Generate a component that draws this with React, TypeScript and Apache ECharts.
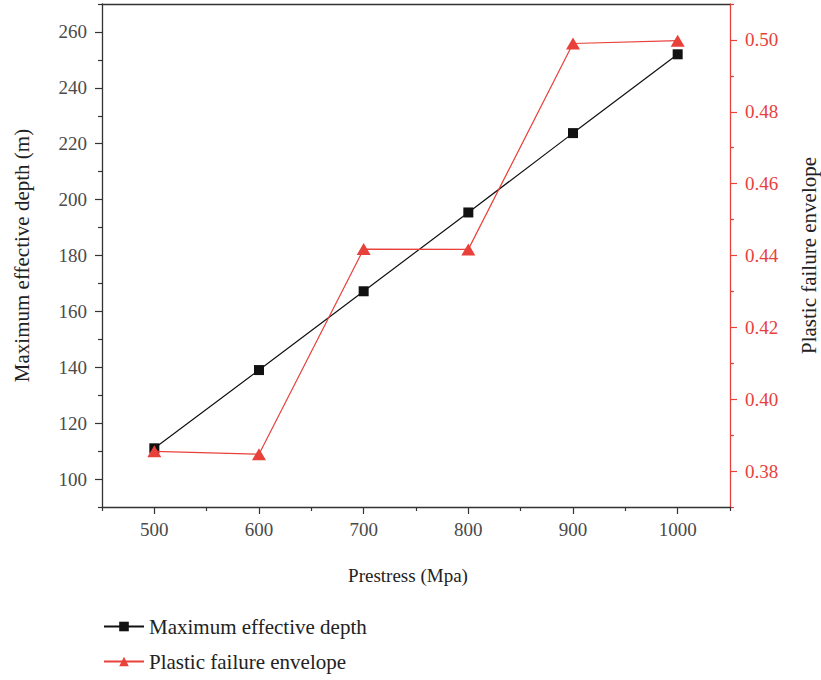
import React, { useEffect, useRef } from "react";
import * as echarts from "echarts";

const prestress = [500, 600, 700, 800, 900, 1000];
const depth = [111, 139, 167.2, 195.4, 223.8, 252];
const envelope = [0.3855, 0.3847, 0.4418, 0.4417, 0.499, 0.4998];

const xMajor = [500, 600, 700, 800, 900, 1000];
const xMinor = [450, 550, 650, 750, 850, 950, 1050];
const yLeftMajor = [100, 120, 140, 160, 180, 200, 220, 240, 260];
const yLeftMinor = [90, 110, 130, 150, 170, 190, 210, 230, 250, 270];
const yRightMajor = [0.38, 0.4, 0.42, 0.44, 0.46, 0.48, 0.5];
const yRightMinor = [0.37, 0.39, 0.41, 0.43, 0.45, 0.47, 0.49, 0.51];

const RED = "#e8413b";
const AXIS = "#333333";
const FONT = "Liberation Serif";

export default function App() {
  const ref = useRef<HTMLDivElement>(null);
  useEffect(() => {
    if (!ref.current) return;
    const chart = echarts.init(ref.current, undefined, { renderer: "svg" });
    const labelStyle = { fontFamily: FONT, fontSize: 19, color: "#4a4a4a" };
    chart.setOption({
      animation: false,
      backgroundColor: "#ffffff",
      grid: { left: 102, right: 91, top: 4, bottom: 173, outerBoundsMode: "none", containLabel: false },
      legend: {
        orient: "vertical",
        left: 98,
        top: 611,
        itemWidth: 40,
        itemHeight: 12,
        itemGap: 14,
        textStyle: { fontFamily: FONT, fontSize: 21, color: "#222" },
        data: ["Maximum effective depth", "Plastic failure envelope"],
      },
      xAxis: [
        {
          type: "value",
          min: 450,
          max: 1050,
          position: "bottom",
          name: "Prestress (Mpa)",
          nameLocation: "middle",
          nameGap: 59,
          nameTextStyle: { fontFamily: FONT, fontSize: 19, color: "#222", padding: [0, 16, 0, 0] },
          axisLine: { show: true, lineStyle: { color: AXIS, width: 1.3 } },
          axisTick: { show: true, length: 7, lineStyle: { color: AXIS, width: 1.2 }, customValues: xMajor },
          axisLabel: { ...labelStyle, margin: 13, customValues: xMajor, formatter: (v: number) => String(v) },
          splitLine: { show: false },
        },
        {
          type: "value",
          min: 450,
          max: 1050,
          position: "bottom",
          axisLine: { show: false },
          axisTick: { show: true, length: 4, lineStyle: { color: AXIS, width: 1.2 }, customValues: xMinor },
          axisLabel: { show: false },
          splitLine: { show: false },
        },
        {
          type: "value",
          min: 450,
          max: 1050,
          position: "top",
          axisLine: { show: true, lineStyle: { color: AXIS, width: 1.3 } },
          axisTick: { show: false },
          axisLabel: { show: false },
          splitLine: { show: false },
        },
      ],
      yAxis: [
        {
          type: "value",
          min: 90,
          max: 270,
          position: "left",
          name: "Maximum effective depth (m)",
          nameLocation: "middle",
          nameRotate: 90,
          nameGap: 70,
          nameTextStyle: { fontFamily: FONT, fontSize: 21, color: "#222" },
          axisLine: { show: true, lineStyle: { color: AXIS, width: 1.3 } },
          axisTick: { show: true, length: 7, lineStyle: { color: AXIS, width: 1.2 }, customValues: yLeftMajor },
          axisLabel: { ...labelStyle, margin: 15, customValues: yLeftMajor, formatter: (v: number) => String(v) },
          splitLine: { show: false },
        },
        {
          type: "value",
          min: 0.37,
          max: 0.51,
          position: "right",
          name: "Plastic failure envelope",
          nameLocation: "middle",
          nameRotate: 90,
          nameGap: 68,
          nameTextStyle: { fontFamily: FONT, fontSize: 21, color: "#222" },
          axisLine: { show: true, lineStyle: { color: RED, width: 1.3 } },
          axisTick: { show: true, length: 7, lineStyle: { color: RED, width: 1.2 }, customValues: yRightMajor },
          axisLabel: {
            ...labelStyle,
            color: RED,
            margin: 15,
            customValues: yRightMajor,
            formatter: (v: number) => v.toFixed(2),
          },
          splitLine: { show: false },
        },
        {
          type: "value",
          min: 90,
          max: 270,
          position: "left",
          axisLine: { show: false },
          axisTick: { show: true, length: 4, lineStyle: { color: AXIS, width: 1.2 }, customValues: yLeftMinor },
          axisLabel: { show: false },
          splitLine: { show: false },
        },
        {
          type: "value",
          min: 0.37,
          max: 0.51,
          position: "right",
          axisLine: { show: false },
          axisTick: { show: true, length: 4, lineStyle: { color: RED, width: 1.2 }, customValues: yRightMinor },
          axisLabel: { show: false },
          splitLine: { show: false },
        },
      ],
      series: [
        {
          name: "Maximum effective depth",
          type: "line",
          xAxisIndex: 0,
          yAxisIndex: 0,
          data: prestress.map((x, i) => [x, depth[i]]),
          symbol: "rect",
          symbolSize: 10,
          itemStyle: { color: "#111111" },
          lineStyle: { color: "#111111", width: 1.2 },
          z: 2,
        },
        {
          name: "Plastic failure envelope",
          type: "line",
          xAxisIndex: 0,
          yAxisIndex: 1,
          data: prestress.map((x, i) => [x, envelope[i]]),
          symbol: "triangle",
          symbolSize: [14, 12],
          itemStyle: { color: RED },
          lineStyle: { color: RED, width: 1.2 },
          z: 3,
        },
      ],
    });
    return () => chart.dispose();
  }, []);
  return (
    <div
      ref={ref}
      style={{ position: "fixed", left: 0, top: 0, width: 821, height: 680, background: "#fff" }}
    />
  );
}
